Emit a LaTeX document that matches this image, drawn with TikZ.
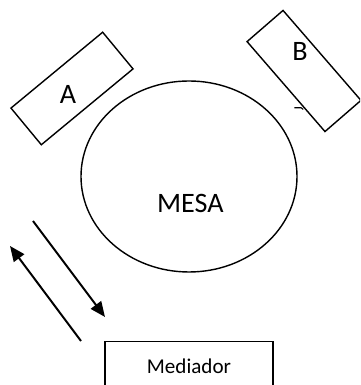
\documentclass[tikz,border=0pt]{standalone}
\usepackage{fontspec}
\setmainfont{Carlito}
\usetikzlibrary{shapes.geometric,arrows.meta}
\tikzset{
    seat/.style={draw, line width=1pt, inner sep=0pt, minimum width=2.975cm, minimum height=1.19cm},
    bigtext/.style={font=\fontsize{20}{24}\selectfont},
    flow/.style={line width=1.4pt, -{Triangle[length=3.8mm,width=3.2mm]}}
}
\begin{document}
\begin{tikzpicture}
    \useasboundingbox (0,0) rectangle (9,9.625);
    \clip (0,0) rectangle (9,9.625);

    % Draw table
    \node[draw, ellipse, line width=1pt, minimum width=5.4cm, minimum height=4.775cm] (mesa) at (4.725,5.2125) {};
    \node[bigtext] (mesalabel) at (4.76,4.53) {MESA};

    % Draw seats
    \node[seat, rotate=39.6] (seata) at (1.8,7.4125) {};
    \node[bigtext] (labela) at (1.7,7.275) {A};
    \node[seat, rotate=-49.1] (seatb) at (7.6,7.85) {};
    \node[bigtext] (labelb) at (7.5,8.35) {B};
    \draw[line width=0.8pt] (7.36,6.93) -- (7.53,6.93) -- (7.58,6.89);

    % Mediator box, cut off at the bottom
    \node[draw, line width=1pt, minimum width=4.2cm, minimum height=1.25cm, anchor=north,
          font=\fontsize{15}{18}\selectfont] (mediador) at (4.725,1.1) {Mediador};

    \coordinate (downstart) at (0.825,4.1);
    \coordinate (downend) at (2.625,1.7);
    \coordinate (upstart) at (2.025,1.1);
    \coordinate (upend) at (0.25,3.475);

    \draw[flow] (downstart) -- (downend);
    \draw[flow] (upstart) -- (upend);
\end{tikzpicture}
\end{document}
